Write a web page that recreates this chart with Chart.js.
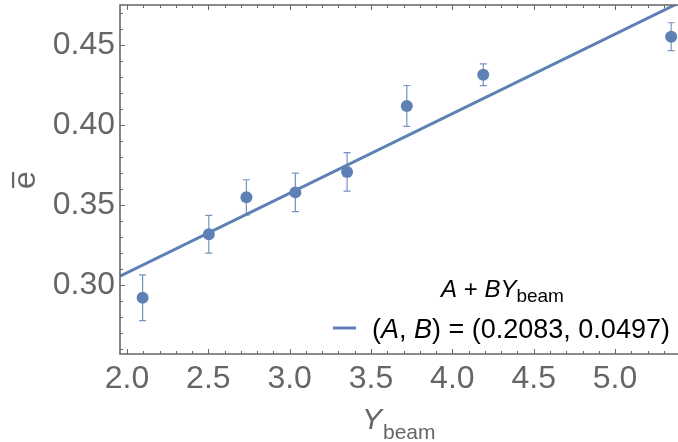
<!DOCTYPE html>
<html>
<head>
<meta charset="utf-8">
<script src="https://cdn.jsdelivr.net/npm/chart.js@4/dist/chart.umd.min.js"></script>
<style>
  html, body { margin: 0; padding: 0; background: #ffffff; }
  #wrap { width: 678px; height: 442px; }
</style>
</head>
<body>
<div id="wrap"><canvas id="c" width="678" height="442"></canvas></div>
<script>
// ---- data ----
const yBeam = [2.096, 2.503, 2.734, 3.035, 3.353, 3.720, 4.190, 5.345];
const eBar  = [0.2921, 0.3317, 0.3548, 0.3579, 0.3707, 0.4119, 0.4314, 0.4552];
const eErr  = [0.0143, 0.0118, 0.0110, 0.0120, 0.0120, 0.0128, 0.0068, 0.0087];
const fitA = 0.2083;
const fitB = 0.0497;
const xRange = [1.957, 5.387];
const yRange = [0.2569, 0.475];
const xTickLabels = ['2.0', '2.5', '3.0', '3.5', '4.0', '4.5', '5.0'];
const yTickLabels = ['0.30', '0.35', '0.40', '0.45'];

const BLUE = '#5E81B5';
const AXIS = '#666666';
const FONT = '"Liberation Sans", Arial, sans-serif';

const fitLine = xRange.map(x => ({ x: x, y: fitA + fitB * x }));
const points = yBeam.map((x, i) => ({ x: x, y: eBar[i] }));

function noPad(s) { s.paddingTop = 0; s.paddingBottom = 0; s.paddingLeft = 0; s.paddingRight = 0; }

const decor = {
  id: 'decor',
  beforeDatasetsDraw(chart) {
    const ctx = chart.ctx, xs = chart.scales.x, ys = chart.scales.y;
    ctx.save();
    ctx.strokeStyle = 'rgba(94,129,181,0.85)';
    ctx.lineWidth = 1.2;
    yBeam.forEach((x, i) => {
      const px = xs.getPixelForValue(x);
      const top = ys.getPixelForValue(eBar[i] + eErr[i]);
      const bot = ys.getPixelForValue(eBar[i] - eErr[i]);
      ctx.beginPath();
      ctx.moveTo(px, top); ctx.lineTo(px, bot);
      ctx.moveTo(px - 3.5, top); ctx.lineTo(px + 3.5, top);
      ctx.moveTo(px - 3.5, bot); ctx.lineTo(px + 3.5, bot);
      ctx.stroke();
    });
    ctx.restore();
  },
  afterDraw(chart) {
    const ctx = chart.ctx, xs = chart.scales.x, ys = chart.scales.y;
    const a = chart.chartArea;
    ctx.save();
    // frame (right side lies at the image edge and is not visible in the reference)
    ctx.strokeStyle = AXIS;
    ctx.lineWidth = 1.6;
    ctx.beginPath();
    ctx.moveTo(a.right + 2, a.top);
    ctx.lineTo(a.left, a.top);
    ctx.lineTo(a.left, a.bottom);
    ctx.lineTo(a.right + 2, a.bottom);
    ctx.stroke();
    // ticks (inward), x every 0.1, y every 0.01
    ctx.lineWidth = 1;
    ctx.beginPath();
    for (let k = 20; k <= 53; k++) {
      const v = k / 10;
      const px = Math.round(xs.getPixelForValue(v)) + 0.5;
      const len = (k % 5 === 0) ? 5 : 3;
      ctx.moveTo(px, a.bottom); ctx.lineTo(px, a.bottom - len);
      ctx.moveTo(px, a.top); ctx.lineTo(px, a.top + len);
    }
    for (let k = 26; k <= 47; k++) {
      const v = k / 100;
      const py = Math.round(ys.getPixelForValue(v)) + 0.5;
      const len = (k % 5 === 0) ? 5 : 3;
      ctx.moveTo(a.left, py); ctx.lineTo(a.left + len, py);
    }
    ctx.stroke();

    // y axis title: e-bar, rotated
    ctx.fillStyle = AXIS;
    ctx.save();
    ctx.translate(35, 180);
    ctx.rotate(-Math.PI / 2);
    ctx.font = '32px ' + FONT;
    ctx.textAlign = 'center';
    ctx.textBaseline = 'alphabetic';
    ctx.fillText('e', 0, 0);
    const we = ctx.measureText('e').width;
    ctx.fillRect(-we / 2 + 1, -23, we - 2, 2.2);
    ctx.restore();

    // x axis title: Y_beam
    ctx.textAlign = 'left';
    ctx.textBaseline = 'alphabetic';
    ctx.font = 'italic 30px ' + FONT;
    ctx.fillText('Y', 362, 429);
    const wY = ctx.measureText('Y').width;
    ctx.font = '21px ' + FONT;
    ctx.fillText('beam', 362 + wY + 1, 439);

    // legend
    ctx.fillStyle = '#000000';
    const runs1 = [['A', true], [' + ', false], ['BY', true]];
    let w1 = 0;
    runs1.forEach(r => { ctx.font = (r[1] ? 'italic ' : '') + '24px ' + FONT; w1 += ctx.measureText(r[0]).width; });
    ctx.font = '19px ' + FONT;
    const wSub = ctx.measureText('beam').width;
    let x0 = 502.5 - (w1 + wSub) / 2;
    runs1.forEach(r => {
      ctx.font = (r[1] ? 'italic ' : '') + '24px ' + FONT;
      ctx.fillText(r[0], x0, 297);
      x0 += ctx.measureText(r[0]).width;
    });
    ctx.font = '19px ' + FONT;
    ctx.fillText('beam', x0, 302);

    ctx.strokeStyle = BLUE;
    ctx.lineWidth = 3;
    ctx.beginPath();
    ctx.moveTo(333, 328); ctx.lineTo(356, 328);
    ctx.stroke();

    const runs2 = [['(', false], ['A', true], [', ', false], ['B', true],
      [') = (' + fitA.toFixed(4) + ', ' + fitB.toFixed(4) + ')', false]];
    let x2 = 372;
    runs2.forEach(r => {
      ctx.font = (r[1] ? 'italic ' : '') + '27px ' + FONT;
      ctx.fillText(r[0], x2, 338);
      x2 += ctx.measureText(r[0]).width;
    });
    ctx.restore();
  }
};

new Chart(document.getElementById('c'), {
  type: 'scatter',
  data: {
    datasets: [
      {
        type: 'scatter',
        data: points,
        backgroundColor: BLUE,
        borderColor: BLUE,
        pointRadius: 6,
        pointHoverRadius: 6,
        borderWidth: 0,
        order: 0,
        clip: 0
      },
      {
        type: 'line',
        data: fitLine,
        borderColor: BLUE,
        borderWidth: 3,
        pointRadius: 0,
        fill: false,
        order: 1
      }
    ]
  },
  options: {
    responsive: false,
    animation: false,
    devicePixelRatio: 1,
    layout: { autoPadding: false, padding: { top: 5, right: 0, left: 0, bottom: 0 } },
    plugins: { legend: { display: false }, tooltip: { enabled: false } },
    scales: {
      x: {
        type: 'linear',
        min: xRange[0], max: xRange[1],
        grid: { display: false, drawTicks: false },
        border: { display: false },
        ticks: {
          stepSize: 0.5, includeBounds: false, autoSkip: false, maxRotation: 0,
          padding: 6, color: AXIS, font: { size: 32, family: FONT },
          callback: (v) => { const s = v.toFixed(1); return xTickLabels.includes(s) ? s : ''; }
        },
        afterFit: (s) => { s.height = 88; noPad(s); }
      },
      y: {
        type: 'linear',
        min: yRange[0], max: yRange[1],
        grid: { display: false, drawTicks: false },
        border: { display: false },
        ticks: {
          stepSize: 0.05, includeBounds: false, autoSkip: false,
          padding: 5, color: AXIS, font: { size: 32, family: FONT },
          callback: (v) => { const s = v.toFixed(2); return yTickLabels.includes(s) ? s : ''; }
        },
        afterFit: (s) => { s.width = 120; noPad(s); }
      }
    }
  },
  plugins: [decor]
});
</script>
</body>
</html>
